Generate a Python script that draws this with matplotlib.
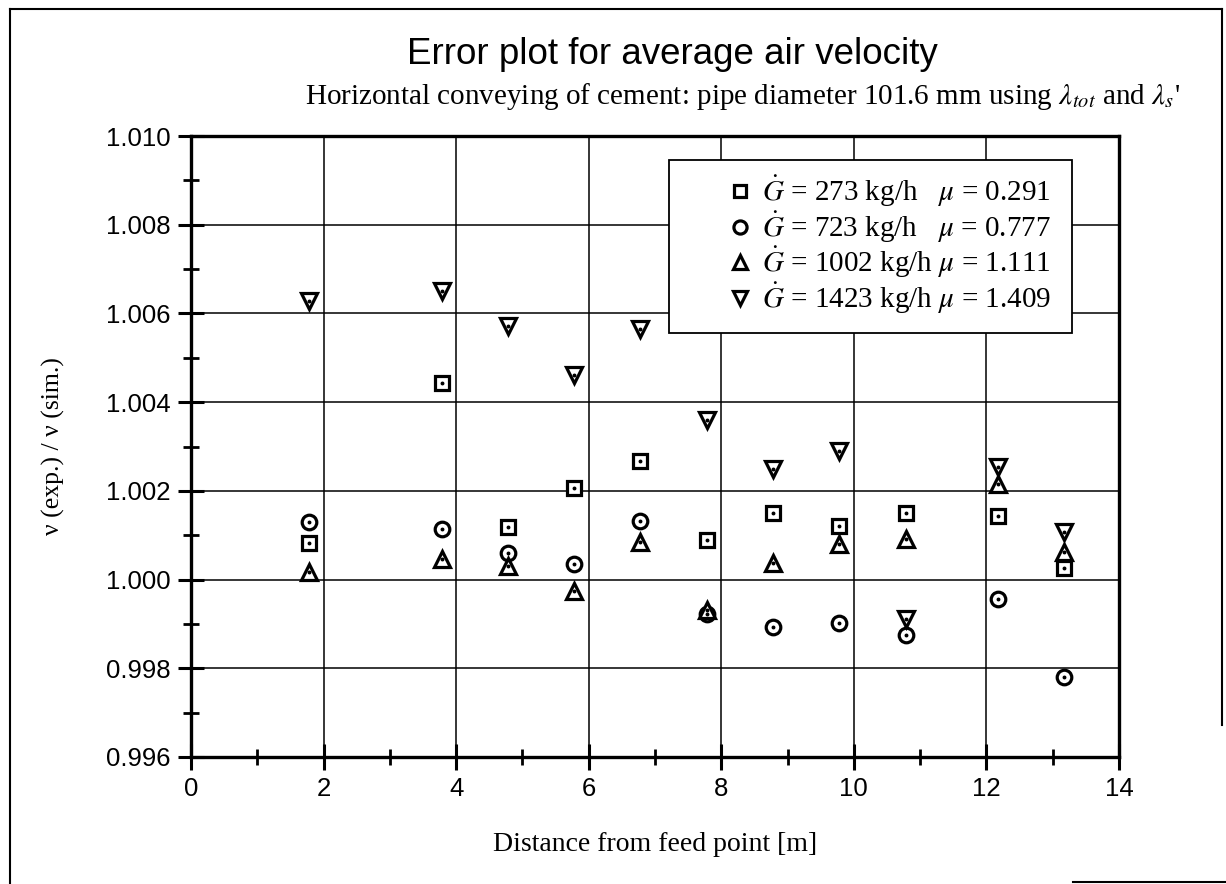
import matplotlib
matplotlib.use("Agg")
import matplotlib.pyplot as plt
from matplotlib.lines import Line2D
from matplotlib.patches import Rectangle
from matplotlib.ticker import MultipleLocator, FormatStrFormatter

# Measurement positions along the pipe [m]
distance = [1.78, 3.79, 4.78, 5.78, 6.78, 7.78, 8.78, 9.78, 10.78, 12.17, 13.17]

# v(exp.)/v(sim.) for each solids mass flow rate
ratio_273 = [1.00083, 1.00443, 1.00119, 1.00206, 1.00268, 1.00090,
             1.00150, 1.00120, 1.00150, 1.00144, 1.00027]
ratio_723 = [1.00129, 1.00115, 1.00059, 1.00034, 1.00131, 0.99922,
             0.99894, 0.99901, 0.99876, 0.99957, 0.99781]
ratio_1002 = [1.00018, 1.00047, 1.00030, 0.99974, 1.00084, 0.99932,
              1.00038, 1.00081, 1.00092, 1.00216, 1.00063]
ratio_1423 = [1.00627, 1.00650, 1.00571, 1.00461, 1.00564, 1.00359,
              1.00250, 1.00290, 0.99912, 1.00254, 1.00108]

series_labels = [
    r"$\dot{G}$ = 273 kg/h   $\mu$ = 0.291",
    r"$\dot{G}$ = 723 kg/h   $\mu$ = 0.777",
    r"$\dot{G}$ = 1002 kg/h $\mu$ = 1.111",
    r"$\dot{G}$ = 1423 kg/h $\mu$ = 1.409",
]
series_values = [ratio_273, ratio_723, ratio_1002, ratio_1423]
series_markers = ["s", "o", "^", "v"]
series_sizes = [9.5, 10.5, 11.5, 11.5]

x_ticks = [0, 2, 4, 6, 8, 10, 12, 14]
y_ticks = [0.996, 0.998, 1.000, 1.002, 1.004, 1.006, 1.008, 1.010]

plt.rcParams["mathtext.fontset"] = "stix"
plt.rcParams["font.family"] = ["Liberation Serif", "DejaVu Serif"]

W, H = 1226, 884
AX_L, AX_R, AX_T, AX_B = 191, 1119, 136, 757
AW, AH = AX_R - AX_L, AX_B - AX_T

fig = plt.figure(figsize=(W / 100, H / 100), dpi=100)
fig.patch.set_facecolor("white")

ax = fig.add_axes([AX_L / W, 1 - AX_B / H, AW / W, AH / H])
ax.set_xlim(0, 14)
ax.set_ylim(0.996, 1.010)
ax.set_xticks(x_ticks)
ax.set_yticks(y_ticks)
ax.xaxis.set_minor_locator(MultipleLocator(1))
ax.yaxis.set_minor_locator(MultipleLocator(0.001))
ax.yaxis.set_major_formatter(FormatStrFormatter("%.3f"))
ax.xaxis.set_major_formatter(FormatStrFormatter("%d"))

ax.grid(True, which="major", color="black", linewidth=1.1)
ax.set_axisbelow(True)
for sp in ax.spines.values():
    sp.set_linewidth(2.4)

ax.tick_params(which="major", direction="inout", length=19, width=2.2, pad=5,
               labelsize=18.5, top=False, right=False)
ax.tick_params(which="minor", direction="inout", length=12, width=2.0,
               top=False, right=False)
for lab in ax.get_xticklabels() + ax.get_yticklabels():
    lab.set_family(["Liberation Sans", "DejaVu Sans"])

handles = []
for vals, mk, ms in zip(series_values, series_markers, series_sizes):
    ax.plot(distance, vals, linestyle="none", marker=mk, markersize=ms,
            markerfacecolor="white", markeredgecolor="black",
            markeredgewidth=2.3, zorder=3)
    ax.plot(distance, vals, linestyle="none", marker="o", markersize=1.8,
            color="black", zorder=4)
    handles.append(Line2D([], [], linestyle="none", marker=mk,
                          markersize=ms * 0.9, markerfacecolor="white",
                          markeredgecolor="black", markeredgewidth=2.3))

# legend box (white panel over the grid) and its entries
ax.add_patch(Rectangle(((669 - AX_L) / AW, (AX_B - 333) / AH),
                       403 / AW, 173 / AH, transform=ax.transAxes,
                       facecolor="white", edgecolor="black", linewidth=1.3,
                       zorder=5))
leg = ax.legend(handles, series_labels, loc="upper left",
                bbox_to_anchor=((727 - AX_L) / AW, (AX_B - 174) / AH),
                fontsize=21, frameon=False, borderpad=0.0,
                labelspacing=0.0, handlelength=0.9, handletextpad=0.3,
                borderaxespad=0.0)
leg.set_zorder(6)

ax.set_xlabel("Distance from feed point [m]", fontsize=20, labelpad=22)
ax.set_ylabel("ν (exp.) / ν (sim.)", fontsize=18.5)
ax.yaxis.set_label_coords((65 - AX_L) / AW, 0.5)

fig.text(672 / W, 1 - 64 / H, "Error plot for average air velocity",
         ha="center", va="baseline", fontsize=26.5,
         family=["Liberation Sans", "DejaVu Sans"])
fig.text(305 / W, 1 - 104 / H,
         r"Horizontal conveying of cement: pipe diameter 101.6 mm using "
         r"$\lambda_{tot}$ and $\lambda_s$'",
         ha="left", va="baseline", fontsize=21)

# page frame around the figure
frame_kw = dict(color="black", linewidth=1.5, transform=fig.transFigure)
fig.add_artist(Line2D([10 / W, 10 / W], [0, 1 - 9 / H], **frame_kw))
fig.add_artist(Line2D([10 / W, 1222 / W], [1 - 9 / H, 1 - 9 / H], **frame_kw))
fig.add_artist(Line2D([1222 / W, 1222 / W], [1 - 9 / H, 1 - 725 / H], **frame_kw))
fig.add_artist(Line2D([1073 / W, 1], [1 - 882 / H, 1 - 882 / H], **frame_kw))

fig.savefig("out.png", dpi=100, facecolor="white")
